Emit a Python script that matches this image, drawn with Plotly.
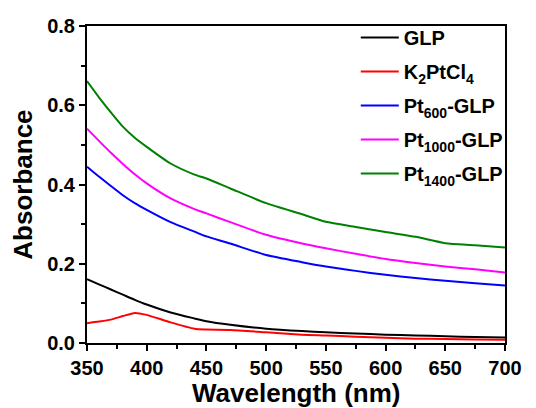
import plotly.graph_objects as go

wavelength = [350, 360, 370, 380, 390, 400, 420, 440, 450, 470, 500, 530, 550, 575, 600, 625, 650, 675, 700]
glp = [0.161, 0.148, 0.135, 0.122, 0.109, 0.097, 0.077, 0.062, 0.055, 0.046, 0.036, 0.030, 0.027, 0.024, 0.021, 0.019, 0.017, 0.015, 0.014]
k2ptcl4 = [0.050, 0.054, 0.059, 0.068, 0.076, 0.071, 0.052, 0.036, 0.034, 0.033, 0.027, 0.021, 0.019, 0.016, 0.013, 0.011, 0.010, 0.009, 0.008]
pt600 = [0.445, 0.420, 0.396, 0.373, 0.353, 0.336, 0.305, 0.281, 0.269, 0.251, 0.222, 0.204, 0.193, 0.182, 0.172, 0.164, 0.157, 0.151, 0.145]
pt1000 = [0.541, 0.510, 0.480, 0.452, 0.426, 0.403, 0.365, 0.338, 0.327, 0.305, 0.273, 0.251, 0.239, 0.225, 0.212, 0.202, 0.193, 0.186, 0.178]
pt1400 = [0.661, 0.620, 0.582, 0.546, 0.518, 0.495, 0.453, 0.425, 0.415, 0.390, 0.353, 0.325, 0.306, 0.293, 0.280, 0.268, 0.252, 0.247, 0.241]

x_title = "Wavelength (nm)"
y_title = "Absorbance"

series = [
    ("GLP", glp, "black"),
    ("K<sub>2</sub>PtCl<sub>4</sub>", k2ptcl4, "red"),
    ("Pt<sub>600</sub>-GLP", pt600, "blue"),
    ("Pt<sub>1000</sub>-GLP", pt1000, "magenta"),
    ("Pt<sub>1400</sub>-GLP", pt1400, "green"),
]

fig = go.Figure()
for i, (name, vals, color) in enumerate(series):
    fig.add_trace(go.Scatter(x=wavelength, y=vals, mode="lines", name=name,
                             line=dict(color=color, width=2, shape="spline", smoothing=0.6),
                             legendgroup=f"g{i}"))

axis_common = dict(showline=True, linecolor="black", linewidth=2, mirror=True,
                   ticks="outside", ticklen=6, tickwidth=2, tickcolor="black",
                   showgrid=False, zeroline=False, automargin=False,
                   tickfont=dict(family="Liberation Sans", size=20, color="black", weight="bold"))

title_font = dict(family="Liberation Sans", size=26, color="black", weight="bold")

fig.update_layout(
    width=536, height=408,
    margin=dict(l=87, r=31, t=26, b=65),
    paper_bgcolor="white", plot_bgcolor="white",
    font=dict(family="Liberation Sans", color="black"),
    showlegend=True,
    legend=dict(x=0.643, y=1.025, xanchor="left", yanchor="top",
                bgcolor="rgba(0,0,0,0)", borderwidth=0, itemwidth=38,
                traceorder="grouped", tracegroupgap=5,
                font=dict(family="Liberation Sans", size=20, color="black", weight="bold")),
    xaxis=dict(range=[350, 700], tickvals=[350, 400, 450, 500, 550, 600, 650, 700],
               minor=dict(ticks="outside", ticklen=4, tickwidth=2, tickcolor="black", dtick=25, tick0=350),
               **axis_common),
    yaxis=dict(range=[0, 0.8], dtick=0.2, tickformat=".1f",
               minor=dict(ticks="outside", ticklen=4, tickwidth=2, tickcolor="black", dtick=0.1),
               **axis_common),
    annotations=[
        dict(text=x_title, xref="paper", yref="paper", x=0.5, y=-0.157,
             xanchor="center", yanchor="middle", showarrow=False, font=title_font),
        dict(text=y_title, xref="paper", yref="paper", x=-0.155, y=0.5, textangle=-90,
             xanchor="center", yanchor="middle", showarrow=False, font=title_font),
    ],
)

fig.write_html("out.html")
